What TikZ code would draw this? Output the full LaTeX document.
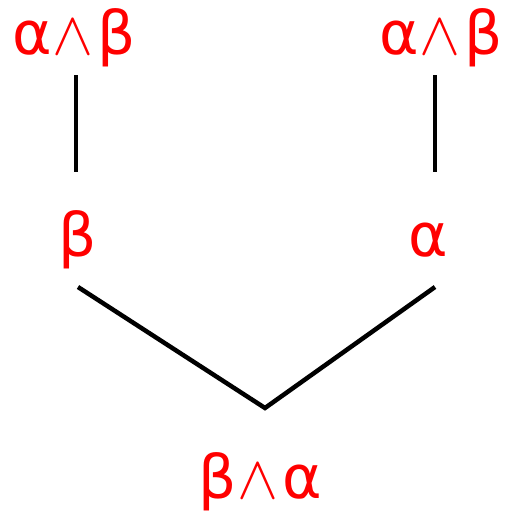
\documentclass[tikz,border=0pt]{standalone}
\usepackage{fontspec}
\setmainfont{DejaVu Sans}
\newcommand{\wdg}{\kern1pt\resizebox{41pt}{34pt}{$\wedge$}\kern4pt}
\begin{document}
\begin{tikzpicture}[x=1pt,y=-1pt,
  lab/.style={text=red,font=\fontsize{60}{64}\selectfont,inner sep=0pt,anchor=base},
  edge/.style={line width=4.5pt,black}]
\useasboundingbox (0,0) rectangle (504,512);
\node[lab] (tl) at (74,54) {α\wdg β};
\node[lab] (tr) at (441,54) {α\wdg β};
\node[lab] (ml) at (78,256) {β};
\node[lab] (mr) at (428,256) {α};
\node[lab] (bot) at (260,498) {β\wdg α};
\coordinate (a1) at (76,75);
\coordinate (a2) at (76,172);
\coordinate (b1) at (435,75);
\coordinate (b2) at (435,172);
\coordinate (c1) at (78,287);
\coordinate (c2) at (265,408);
\coordinate (c3) at (435,287);
\draw[edge] (a1) -- (a2);
\draw[edge] (b1) -- (b2);
\draw[edge] (c1) -- (c2) -- (c3);
\end{tikzpicture}
\end{document}
